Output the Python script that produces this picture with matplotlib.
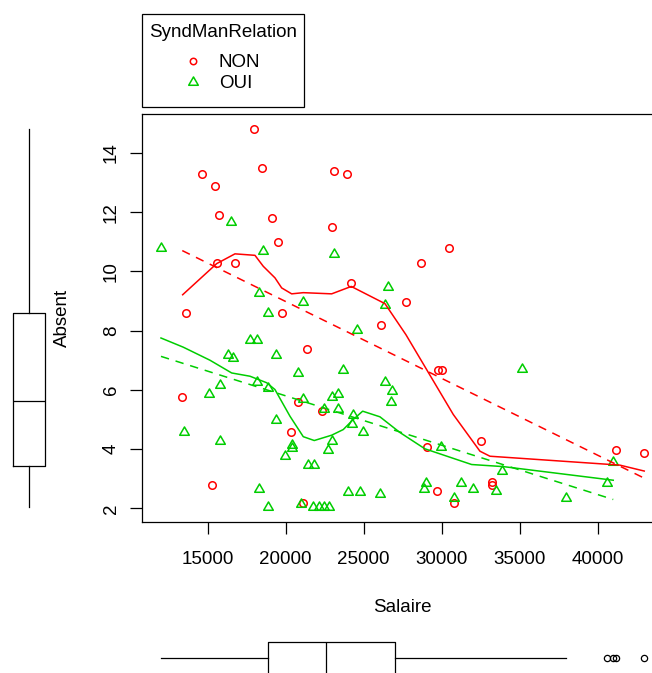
import numpy as np
import matplotlib
matplotlib.use('Agg')
import matplotlib.pyplot as plt
from matplotlib.patches import Rectangle
from matplotlib.path import Path

plt.rcParams['font.family'] = ['Liberation Sans', 'DejaVu Sans']
FS = 13.5

# data
non_x = [17990, 14650, 18460, 15490, 23120, 23950, 15700, 19120, 22950, 19530,
         15580, 16750, 24200, 13610, 19740, 26130, 30470, 28670, 27710, 21370,
         13370, 20790, 22310, 20340, 15260, 21090, 29780, 30040, 32500, 29040,
         41190, 42990, 33240, 33240, 29680, 30790]
non_y = [14.80, 13.29, 13.49, 12.89, 13.39, 13.30, 11.89, 11.79, 11.49, 10.99,
         10.28, 10.28, 9.59, 8.58, 8.58, 8.20, 10.80, 10.28, 8.98, 7.38,
         5.77, 5.58, 5.27, 4.58, 2.78, 2.18, 6.68, 6.68, 4.28, 4.08,
         3.98, 3.86, 2.90, 2.79, 2.57, 2.18]

oui_x = [12010, 16470, 18530, 23120, 18270, 21110, 18870, 26580, 26390, 24550,
         17710, 18140, 16300, 16640, 19360, 20810, 23670, 18140, 15790, 18890,
         15060, 21110, 22950, 23370, 22470, 23350, 24330, 24230, 24960, 19400,
         13460, 15770, 22950, 22690, 20420, 20390, 19960, 21450, 21810, 18290,
         18870, 20960, 21770, 22140, 22460, 22800, 24010, 24780, 26050, 26390,
         26800, 26750, 35150, 29940, 33850, 41000, 28990, 28890, 31220, 31990,
         33460, 30810, 37970, 40580]
oui_y = [10.80, 11.68, 10.68, 10.59, 9.28, 8.98, 8.59, 9.48, 8.87, 8.01,
         7.68, 7.68, 7.18, 7.07, 7.18, 6.57, 6.67, 6.26, 6.17, 6.06,
         5.87, 5.68, 5.77, 5.86, 5.36, 5.37, 5.16, 4.85, 4.57, 4.98,
         4.57, 4.27, 4.26, 3.96, 4.15, 4.04, 3.77, 3.47, 3.47, 2.66,
         2.06, 2.15, 2.06, 2.06, 2.06, 2.06, 2.56, 2.56, 2.47, 6.26,
         5.97, 5.58, 6.69, 4.08, 3.27, 3.57, 2.85, 2.66, 2.86, 2.66,
         2.57, 2.36, 2.36, 2.86]

# smoothers and linear fits as drawn
non_smooth_x = [13397, 15577, 16750, 18032, 18564, 19314, 19744, 20385, 21128,
                22949, 24205, 26365, 27712, 30744, 32455, 33096, 41423, 42987]
non_smooth_y = [9.21, 10.26, 10.59, 10.54, 10.17, 9.78, 9.44, 9.24, 9.28,
                9.24, 9.49, 8.91, 7.86, 5.17, 3.93, 3.76, 3.46, 3.26]
oui_smooth_x = [12006, 13436, 15147, 16538, 17712, 18782, 19314, 20276, 21128,
                21833, 22949, 23692, 24333, 24936, 26045, 27327, 28929, 31923,
                33949, 41000]
oui_smooth_y = [7.75, 7.44, 7.00, 6.57, 6.46, 6.24, 6.01, 5.11, 4.42,
                4.29, 4.47, 4.66, 5.00, 5.28, 5.09, 4.56, 4.01, 3.48,
                3.41, 2.95]
non_fit_x = [13372, 42987]
non_fit_y = [10.70, 3.02]
oui_fit_x = [12006, 41000]
oui_fit_y = [7.13, 2.30]

RED = '#FF0000'
GREEN = '#00CD00'

# equilateral triangle like R pch=2, centred on its centroid
tri = Path([(-0.866, -0.5), (0.866, -0.5), (0, 1.0), (-0.866, -0.5)],
           [Path.MOVETO, Path.LINETO, Path.LINETO, Path.CLOSEPOLY])

W, H = 652, 673
fig = plt.figure(figsize=(W / 100, H / 100), dpi=100)

def fx(px):
    return px / W

def fy(py):
    return 1 - py / H

left, right, top, bottom = 141.7, 663.6, 114.0, 521.7
ax = fig.add_axes([fx(left), fy(bottom), fx(right - left), (bottom - top) / H])

all_x = non_x + oui_x
all_y = non_y + oui_y
dx = (max(all_x) - min(all_x)) * 0.04
dy = (max(all_y) - min(all_y)) * 0.04
ax.set_xlim(min(all_x) - dx, max(all_x) + dx)
ax.set_ylim(min(all_y) - dy, max(all_y) + dy)

ax.plot(non_x, non_y, linestyle='none', marker='o', ms=5.4, mfc='none',
        mec=RED, mew=1.1)
ax.plot(oui_x, oui_y, linestyle='none', marker=tri, ms=8.0, mfc='none',
        mec=GREEN, mew=1.1)
ax.plot(non_smooth_x, non_smooth_y, color=RED, lw=1.1)
ax.plot(oui_smooth_x, oui_smooth_y, color=GREEN, lw=1.1)
ax.plot(non_fit_x, non_fit_y, color=RED, lw=1.1, dashes=(5.5, 4.5))
ax.plot(oui_fit_x, oui_fit_y, color=GREEN, lw=1.1, dashes=(5.5, 4.5))

ax.set_xticks([15000, 20000, 25000, 30000, 35000, 40000])
ax.set_yticks([2, 4, 6, 8, 10, 12, 14])
ax.tick_params(axis='both', length=8.6, width=0.9, labelsize=FS)
ax.tick_params(axis='x', pad=12.3)
ax.tick_params(axis='y', pad=7.0, labelrotation=90)
for lab in ax.get_yticklabels():
    lab.set_va('center')
for sp in ax.spines.values():
    sp.set_linewidth(0.9)

# marginal boxplots
box_style = dict(patch_artist=False, showcaps=False,
                 boxprops=dict(color='black', lw=0.9),
                 whiskerprops=dict(color='black', lw=0.9),
                 medianprops=dict(color='black', lw=0.9),
                 flierprops=dict(marker='o', ms=4.5, mfc='none', mec='black', mew=0.9))

axl = fig.add_axes([0, fy(bottom), fx(58), (bottom - top) / H])
axl.boxplot(all_y, positions=[28.7], widths=32.3, **box_style)
axl.set_xlim(0, 58)
axl.set_ylim(ax.get_ylim())
axl.axis('off')

axb = fig.add_axes([fx(left), 0, fx(right - left), 53 / H])
axb.boxplot(all_x, positions=[14.7], widths=33.3, orientation='horizontal', **box_style)
axb.set_ylim(0, 53)
axb.set_xlim(ax.get_xlim())
axb.axis('off')

# overlay in pixel coordinates for labels and legend
ov = fig.add_axes([0, 0, 1, 1], facecolor='none')
ov.set_xlim(0, W)
ov.set_ylim(H, 0)
ov.axis('off')

ov.text((left + right) / 2, 611.7, 'Salaire', ha='center', va='baseline', fontsize=FS)
ov.text(67.0, (top + bottom) / 2, 'Absent', ha='center', va='baseline', fontsize=FS,
        rotation=90, rotation_mode='anchor')

ov.add_patch(Rectangle((141.7, 14), 304.3 - 141.7, 106.7 - 14, fill=False,
                       ec='black', lw=0.9))
ov.text(222.8, 37.3, 'SyndManRelation', ha='center', va='baseline', fontsize=FS)
ov.plot([192.7], [60.7], linestyle='none', marker='o', ms=4.6, mfc='none', mec=RED, mew=1.1)
ov.plot([192.7], [82.2], linestyle='none', marker=tri, ms=8.0, mfc='none', mec=GREEN, mew=1.1)
ov.text(219, 67.4, 'NON', ha='left', va='baseline', fontsize=FS)
ov.text(219, 88.4, 'OUI', ha='left', va='baseline', fontsize=FS)

fig.savefig('out.png', dpi=100)
